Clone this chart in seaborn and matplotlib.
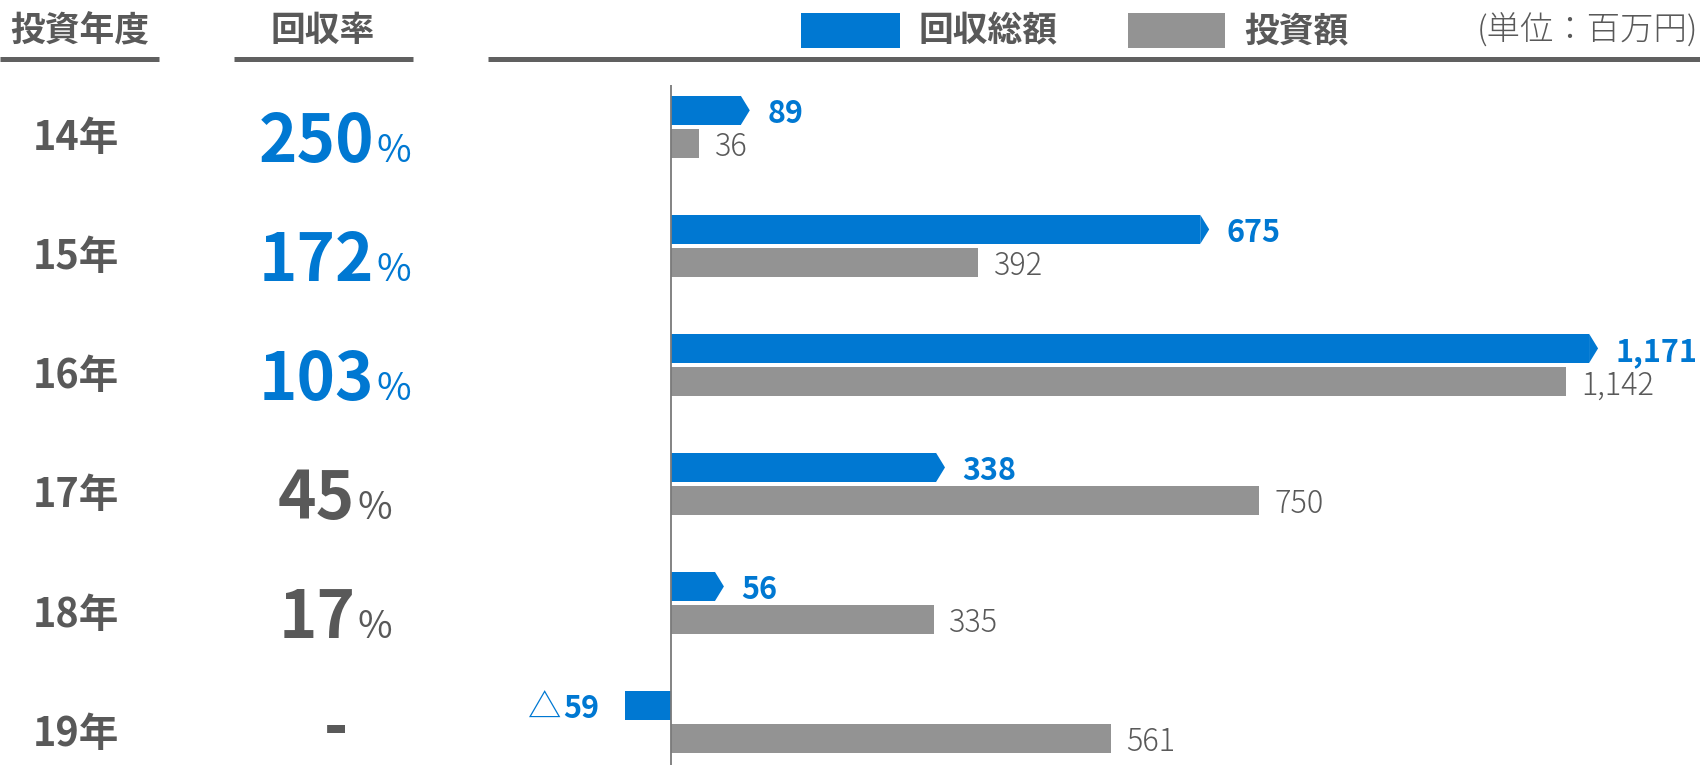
import matplotlib
matplotlib.use("Agg")
import matplotlib.pyplot as plt
import matplotlib.transforms as mtransforms
from matplotlib.patches import Rectangle, Polygon
from matplotlib.lines import Line2D
import seaborn as sns
import pandas as pd

# ---------------- data ----------------
years = ["14年", "15年", "16年", "17年", "18年", "19年"]
recovery = [89, 675, 1171, 338, 56, -59]        # 回収総額
investment = [36, 392, 1142, 750, 335, 561]      # 投資額
rates = ["250", "172", "103", "45", "17", "-"]   # 回収率 (%)
rate_highlight = [True, True, True, False, False, False]
series_names = ["回収総額", "投資額"]
headers = ["投資年度", "回収率"]
unit_label = "(単位：百万円)"

BLUE = "#0078d2"
GRAY_BAR = "#939393"
TXT = "#595959"
LINE = "#606060"

sns.set_style("white")
plt.rcParams["font.family"] = ["Noto Sans CJK JP", "DejaVu Sans"]

W, H = 1700, 765
fig = plt.figure(figsize=(W / 100, H / 100), dpi=100)
fig.patch.set_facecolor("white")
renderer = fig.canvas.get_renderer()

df = pd.DataFrame({
    "year": years * 2,
    "series": [series_names[0]] * len(years) + [series_names[1]] * len(years),
    "value": recovery + investment,
})

ax = fig.add_axes([488 / W, 0, (W - 488) / W, 680 / H])
sns.barplot(data=df, y="year", x="value", hue="series", orient="h",
            palette=[BLUE, GRAY_BAR], saturation=1, width=0.56, gap=0.12,
            legend=False, ax=ax, edgecolor="none", linewidth=0)

px_per_unit = 0.784
ax.set_xlim((488 - 671) / px_per_unit, (1700 - 671) / px_per_unit)
ax.set_ylim(5.36, -0.353)
for s in ax.spines.values():
    s.set_visible(False)
ax.set_xticks([])
ax.set_yticks([])
ax.set_xlabel("")
ax.set_ylabel("")
ax.axvline(0, color="#7a7a7a", lw=1.3, zorder=5)

PT = 0.72  # points per pixel at dpi 100
tip = 9 / px_per_unit
dy = -2.5
blue_bars = ax.containers[0]
gray_bars = ax.containers[1]
for bar, v in zip(blue_bars, recovery):
    y0 = bar.get_y()
    h = bar.get_height()
    yc = y0 + h / 2
    x_lo = min(bar.get_x(), bar.get_x() + bar.get_width())
    x_hi = max(bar.get_x(), bar.get_x() + bar.get_width())
    if v > 0:
        ax.add_patch(Polygon([(x_hi, y0), (x_hi + tip, yc), (x_hi, y0 + h)],
                             closed=True, facecolor=BLUE, edgecolor="none"))
        ax.annotate(f"{v:,}", (x_hi, yc), xytext=(19, dy), textcoords="offset points",
                    ha="left", va="center", fontsize=22, fontweight="bold", color=BLUE)
    else:
        num = ax.annotate(f"{abs(v):,}", (x_lo, yc), xytext=(-26 * PT, dy),
                          textcoords="offset points", ha="right", va="center",
                          fontsize=22, fontweight="bold", color=BLUE)
        wnum = num.get_window_extent(renderer).width
        ax.annotate("△", (x_lo, yc), xytext=(-(26 + wnum + 1) * PT, dy),
                    textcoords="offset points", ha="right", va="center",
                    fontsize=24, color=BLUE)

for bar, v in zip(gray_bars, investment):
    xe = max(bar.get_x(), bar.get_x() + bar.get_width())
    y0 = bar.get_y()
    h = bar.get_height()
    ax.annotate(f"{v:,}", (xe, y0 + h / 2), xytext=(11, dy), textcoords="offset points",
                ha="left", va="center", fontsize=22, fontweight="light", color=TXT)

# ---------------- left columns ----------------
trans = mtransforms.blended_transform_factory(fig.transFigure, ax.transData)
for i, (yr, r, hl) in enumerate(zip(years, rates, rate_highlight)):
    yy = i + 0.1
    fig.text(76 / W, yy, yr, transform=trans, ha="center", va="center",
             fontsize=28.5, fontweight="bold", color=TXT)
    col = BLUE if hl else TXT
    if r == "-":
        fig.text(336 / W, i + 0.06, "-", transform=trans, ha="center", va="center",
                 fontsize=42, fontweight="bold", color=TXT, family="DejaVu Sans")
        continue
    tn = fig.text(0, yy, r, transform=trans, ha="right", va="baseline",
                  fontsize=47, fontweight="bold", color=col)
    tp = fig.text(0, yy, "%", transform=trans, ha="left", va="baseline",
                  fontsize=27, color=col)
    wn = tn.get_window_extent(renderer).width
    wp = tp.get_window_extent(renderer).width
    xc = 335
    gapp = 2
    split = xc - (wn + wp + gapp) / 2 + wn
    tn.set_x(split / W)
    tp.set_x((split + gapp) / W)
    tn.set_y(i + 0.29)
    tp.set_y(i + 0.29)

# ---------------- header ----------------
hy = 1 - 31 / H
fig.text(80 / W, hy, headers[0], ha="center", va="center", fontsize=25,
         fontweight="bold", color=TXT)
fig.text(323 / W, hy, headers[1], ha="center", va="center", fontsize=25,
         fontweight="bold", color=TXT)
ly = 1 - 59 / H
for x0, x1 in [(0, 159), (234, 413), (488, 1700)]:
    fig.add_artist(Line2D([x0 / W, x1 / W], [ly, ly], transform=fig.transFigure,
                          color=LINE, lw=3.6, solid_capstyle="butt"))

# legend
fig.add_artist(Rectangle((801 / W, 1 - 48 / H), 99 / W, 35 / H,
                         transform=fig.transFigure, facecolor=BLUE, edgecolor="none"))
fig.text(919 / W, hy, series_names[0], ha="left", va="center", fontsize=25,
         fontweight="bold", color=TXT)
fig.add_artist(Rectangle((1128 / W, 1 - 48 / H), 97 / W, 35 / H,
                         transform=fig.transFigure, facecolor=GRAY_BAR, edgecolor="none"))
fig.text(1244 / W, hy, series_names[1], ha="left", va="center", fontsize=25,
         fontweight="bold", color=TXT)
fig.text(1698 / W, hy, unit_label, ha="right", va="center", fontsize=24,
         fontweight="light", color=TXT)

fig.savefig("out.png", dpi=100, facecolor="white")
